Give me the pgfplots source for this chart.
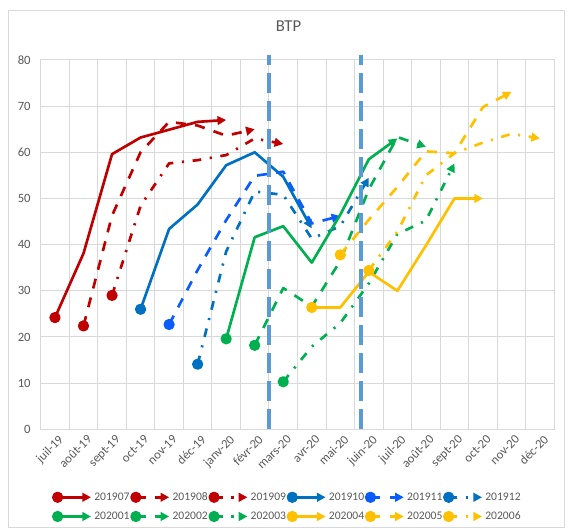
\documentclass[border=0pt]{standalone}
\usepackage{fontspec}
\setmainfont{Carlito}
\usepackage{pgfplots}
\pgfplotsset{compat=1.18}
\usetikzlibrary{arrows.meta}

\definecolor{cRed}{HTML}{C00000}
\definecolor{cBlue}{HTML}{0070C0}
\definecolor{cBrBlue}{HTML}{0A5CFF}
\definecolor{cGreen}{HTML}{00B050}
\definecolor{cYellow}{HTML}{FFC000}
\definecolor{cVline}{HTML}{5B9BD5}
\definecolor{gridgray}{HTML}{D9D9D9}
\definecolor{labgray}{HTML}{595959}

\pgfplotsset{
  cohort/.style={line width=2pt, line join=round, mark=*, mark indices={1},
    mark size=3.2pt, mark options={solid},
    -{Triangle[length=6.5pt,width=6.5pt]}},
  ldash/.style={dash pattern=on 7.5pt off 7pt},
  ldashdot/.style={dash pattern=on 6.5pt off 6.5pt on 1.6pt off 6.5pt},
}

\begin{document}
\begin{tikzpicture}
\path[use as bounding box] (-30.525pt,-74.025pt) rectangle (396.975pt,321.975pt);
\draw[gridgray, line width=0.75pt] (-24.3pt,-73.4pt) rectangle (393.2pt,313.95pt);
\begin{axis}[
  at={(0pt,0pt)}, anchor=south west,
  scale only axis, width=385.2pt, height=277pt,
  xmin=-0.5, xmax=17.5, ymin=0, ymax=80,
  clip=false,
  xtick={0,...,17},
  xticklabels={juil-19,août-19,sept-19,oct-19,nov-19,déc-19,janv-20,févr-20,mars-20,avr-20,mai-20,juin-20,juil-20,août-20,sept-20,oct-20,nov-20,déc-20},
  minor xtick={-0.5,0.5,...,17.5},
  ytick={0,10,...,80},
  xmajorgrids=false, xminorgrids=true, ymajorgrids=true,
  grid style={gridgray, line width=0.75pt},
  minor grid style={gridgray, line width=0.75pt},
  major tick length=0pt, minor tick length=0pt,
  axis line style={gridgray, line width=0.75pt},
  /pgf/number format/assume math mode=true,
  ticklabel style={font=\fontsize{9.5}{11}\selectfont, text=labgray},
  yticklabel style={xshift=-4pt},
  xticklabel style={rotate=45, anchor=north east, inner sep=1pt, yshift=-3pt},
  title=BTP,
  title style={at={(0.4825,1.0712)}, anchor=center, font=\fontsize{12.5}{14}\selectfont, text=labgray},
  legend columns=6,
  legend cell align=left,
  legend image code/.code={\draw[#1, mark indices={1}] plot coordinates {(0pt,0pt) (25pt,0pt)};},
  legend style={at={(0.4815,-0.21)}, anchor=center, draw=none, fill=none,
    font=\fontsize{8.7}{10}\selectfont, text=labgray, row sep=4pt,
    nodes={inner sep=1.5pt},
    /tikz/every even column/.append style={column sep=0pt}},
]
\addplot[cohort, cRed] coordinates {(0,24.2) (1,38.1) (2,59.6) (3,63.2) (4,64.9) (5,66.6) (6,67.0)};
\addlegendentry{201907}
\addplot[cohort, ldash, cRed] coordinates {(1,22.4) (2,46.3) (3,60.0) (4,66.6) (5,65.8) (6,63.6) (7,65.0)};
\addlegendentry{201908}
\addplot[cohort, ldashdot, cRed] coordinates {(2,29.0) (3,48.4) (4,57.6) (5,58.3) (6,59.4) (7,63.0) (8,61.8)};
\addlegendentry{201909}
\addplot[cohort, cBlue] coordinates {(3,26.0) (4,43.4) (5,48.7) (6,57.2) (7,60.0) (8,54.7) (9,43.5)};
\addlegendentry{201910}
\addplot[cohort, ldash, cBrBlue] coordinates {(4,22.7) (5,34.5) (6,45.3) (7,54.9) (8,55.8) (9,44.6) (10,46.2)};
\addlegendentry{201911}
\addplot[cohort, ldashdot, cBlue] coordinates {(5,14.1) (6,38.5) (7,51.5) (8,50.8) (9,41.3) (10,44.0) (11,54.5)};
\addlegendentry{201912}
\addplot[cohort, cGreen] coordinates {(6,19.6) (7,41.6) (8,44.0) (9,36.1) (10,46.5) (11,58.5) (12,63.0)};
\addlegendentry{202001}
\addplot[cohort, ldash, cGreen] coordinates {(7,18.2) (8,30.6) (9,26.6) (10,36.5) (11,52.0) (12,63.3) (13,61.2)};
\addlegendentry{202002}
\addplot[cohort, ldashdot, cGreen] coordinates {(8,10.3) (9,17.9) (10,23.0) (11,31.6) (12,42.3) (13,45.2) (14,57.6)};
\addlegendentry{202003}
\addplot[cohort, cYellow] coordinates {(9,26.4) (10,26.4) (11,34.1) (12,30.0) (13,39.8) (14,50.0) (15,50.0)};
\addlegendentry{202004}
\addplot[cohort, ldash, cYellow] coordinates {(10,37.8) (11,45.4) (12,52.5) (13,60.2) (14,59.8) (15,69.8) (16,73.1)};
\addlegendentry{202005}
\addplot[cohort, ldashdot, cYellow] coordinates {(11,34.4) (12,42.8) (13,55.0) (14,59.8) (15,62.1) (16,64.0) (17,63.0)};
\addlegendentry{202006}
% confinement / deconfinement
\addplot[forget plot, cVline, line width=3pt, dash pattern=on 15pt off 6pt] coordinates {(7.5,0) (7.5,81.1)};
\addplot[forget plot, cVline, line width=3pt, dash pattern=on 15pt off 6pt] coordinates {(10.72,0) (10.72,81.1)};
\end{axis}
\end{tikzpicture}
\end{document}
